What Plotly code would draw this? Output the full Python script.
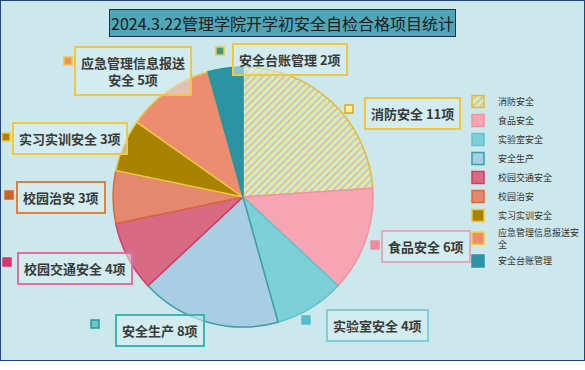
import plotly.graph_objects as go

categories = ["消防安全", "食品安全", "实验室安全", "安全生产", "校园交通安全",
              "校园治安", "实习实训安全", "应急管理信息报送安全", "安全台账管理"]
counts = [11, 6, 4, 8, 4, 3, 3, 5, 2]
legend_names = ["消防安全", "食品安全", "实验室安全", "安全生产", "校园交通安全",
                "校园治安", "实习实训安全", "应急管理信息报送安<br>全", "安全台账管理"]
title_text = "2024.3.22管理学院开学初安全自检合格项目统计"

slice_colors = ["#fbf1a6", "#f7a5b3", "#7dd0d8", "#a9cde2", "#d96a83",
                "#e4886f", "#a98200", "#ec8d72", "#2b93a2"]
slice_lines = ["#e2b93a", "#f093a6", "#5fc3cc", "#3a9fa8", "#d8386a",
               "#d86a3a", "#f0c840", "#f0c840", "#2b93a2"]
label_borders = ["#f0c840", "#e8a8b8", "#7fcfd8", "#3cb4b4", "#e070a0",
                 "#e08040", "#f0c840", "#f0c840", "#f0c840"]
marker_fills = ["#fdf0a0", "#f08ca0", "#4fc0cc", "#6cc8c8", "#e0306a",
                "#d0641e", "#b08000", "#f09060", "#3a9a80"]
marker_lines = ["#d8a820", "#f08ca0", "#4fc0cc", "#2a9898", "#e0306a",
                "#d0641e", "#f0c840", "#f0c840", "#f0c840"]

# label box centres and marker positions (pixels from top-left)
label_pos = [(412, 113), (426, 246), (377, 325), (160, 330), (75, 268),
             (61, 197), (70, 138), (133, 71), (290, 60)]
marker_pos = [(349, 109), (375, 245), (306, 320), (95, 324), (7, 262),
              (9, 195), (6, 137), (68, 61), (220, 51)]

W, H = 585, 361
def px(x):
    return x / W
def py(y):
    return 1 - y / H

fig = go.Figure()
fig.add_trace(go.Pie(
    labels=legend_names,
    values=counts,
    sort=False,
    direction="clockwise",
    rotation=0,
    textinfo="none",
    hoverinfo="label+value",
    marker=dict(
        colors=slice_colors,
        line=dict(color=slice_lines, width=1.5),
        pattern=dict(shape=["/", "", "", "", "", "", "", "", ""],
                     fgcolor="#e8c850", size=5, solidity=0.35),
    ),
    domain=dict(x=[px(113), px(373)], y=[py(327), py(67)]),
))

annotations = [dict(
    text=title_text, x=px(282), y=py(23), xref="paper", yref="paper",
    xanchor="center", yanchor="middle",
    showarrow=False, font=dict(size=16, color="#1a1a1a", family="Noto Sans CJK SC"),
    bgcolor="#4fa6b8", bordercolor="#1c2f4a", borderwidth=1, borderpad=1,
)]
shapes = []
for i, cat in enumerate(categories):
    if cat == "应急管理信息报送安全":
        text = "<b>应急管理信息报送</b><br><b>安全 %d项</b>" % counts[i]
    else:
        text = "<b>%s %d项</b>" % (cat, counts[i])
    lx, ly = label_pos[i]
    annotations.append(dict(
        text=text, x=px(lx), y=py(ly), xref="paper", yref="paper",
        xanchor="center", yanchor="middle",
        showarrow=False, font=dict(size=13, color="#3a3a3a", family="Noto Sans CJK SC"),
        bordercolor=label_borders[i], borderwidth=2, borderpad=5,
        bgcolor="rgba(215,238,242,0.55)",
    ))
    mx, my = marker_pos[i]
    shapes.append(dict(
        type="rect", xref="paper", yref="paper",
        x0=px(mx - 4), x1=px(mx + 4), y0=py(my + 4), y1=py(my - 4),
        fillcolor=marker_fills[i], line=dict(color=marker_lines[i], width=1.5),
    ))

# outer frame
shapes.append(dict(type="rect", xref="paper", yref="paper", x0=0, x1=1, y0=0, y1=1,
                   line=dict(color="#23457a", width=2), layer="above"))

fig.update_layout(
    width=W, height=H,
    margin=dict(l=0, r=0, t=0, b=0),
    paper_bgcolor="#cde8ec",
    plot_bgcolor="#cde8ec",
    showlegend=True,
    legend=dict(x=1, y=py(87), xanchor="right", yanchor="top",
                font=dict(size=9, color="#333", family="Noto Sans CJK SC"),
                bgcolor="rgba(0,0,0,0)", itemwidth=30),
    annotations=annotations,
    shapes=shapes,
)

fig.write_html("out.html", config={"displayModeBar": False},
               post_script="document.body.style.margin='0';")
